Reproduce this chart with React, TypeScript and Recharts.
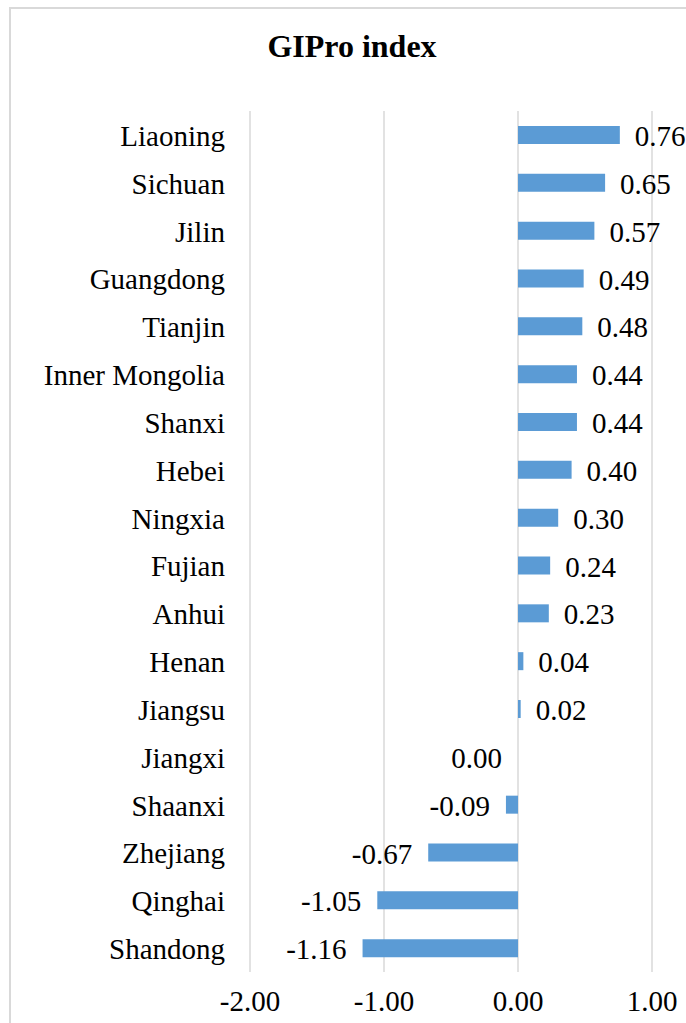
import React from 'react';
import { BarChart, Bar, XAxis, YAxis, CartesianGrid, LabelList, Rectangle } from 'recharts';

const provinces = [
  'Liaoning', 'Sichuan', 'Jilin', 'Guangdong', 'Tianjin', 'Inner Mongolia',
  'Shanxi', 'Hebei', 'Ningxia', 'Fujian', 'Anhui', 'Henan', 'Jiangsu',
  'Jiangxi', 'Shaanxi', 'Zhejiang', 'Qinghai', 'Shandong',
];
const gipro = [
  0.76, 0.65, 0.57, 0.49, 0.48, 0.44,
  0.44, 0.40, 0.30, 0.24, 0.23, 0.04, 0.02,
  0.00, -0.09, -0.67, -1.05, -1.16,
];
const xTicks = [-2, -1, 0, 1];
const title = 'GIPro index';

const data = provinces.map((name, i) => ({ name, value: gipro[i] }));

const FONT = '"Liberation Serif", "Times New Roman", Times, serif';
const FS = 29;

const YTick = (props: any) => {
  const { y, payload } = props;
  return (
    <text x={225} y={y + 1} textAnchor="end" dominantBaseline="central"
      style={{ fontFamily: FONT }} fontSize={FS} fill="#000">
      {payload.value}
    </text>
  );
};

const XTick = (props: any) => {
  const { x, payload } = props;
  return (
    <text x={x} y={1001} textAnchor="middle" dominantBaseline="central"
      style={{ fontFamily: FONT }} fontSize={FS} fill="#000">
      {Number(payload.value).toFixed(2)}
    </text>
  );
};

const ValueLabel = (props: any) => {
  const { x, y, width, height, value } = props;
  const left = Math.min(x, x + width);
  const right = Math.max(x, x + width);
  const cy = y + height / 2 + 1;
  const v = Number(value);
  if (v > 0) {
    return (
      <text x={right + 15} y={cy} textAnchor="start" dominantBaseline="central"
        style={{ fontFamily: FONT }} fontSize={FS} fill="#000">
        {v.toFixed(2)}
      </text>
    );
  }
  return (
    <text x={left - 16} y={cy} textAnchor="end" dominantBaseline="central"
      style={{ fontFamily: FONT }} fontSize={FS} fill="#000">
      {v.toFixed(2)}
    </text>
  );
};

const BarShape = (props: any) => {
  if (props.payload && props.payload.value === 0) return <g />;
  return <Rectangle {...props} />;
};

export default function App() {
  return (
    <div style={{ position: 'fixed', left: 0, top: 0, width: 686, height: 1023, overflow: 'hidden', background: '#fff' }}>
      <div style={{
        position: 'absolute', left: 9, top: 7, width: 800, height: 1100,
        border: '2px solid #d9d9d9', boxSizing: 'border-box',
      }} />
      <div style={{
        position: 'absolute', left: 0, top: 26, width: 704, textAlign: 'center',
        fontFamily: FONT, fontSize: 32, fontWeight: 'bold', color: '#000', lineHeight: '40px',
      }}>
        {title}
      </div>
      <div style={{ position: 'absolute', left: 0, top: 0 }}>
        <BarChart
          width={686}
          height={1023}
          data={data}
          layout="vertical"
          margin={{ top: 111, right: 34, bottom: 0, left: 0 }}
          barCategoryGap={0}
        >
          <CartesianGrid horizontal={false} stroke="#d9d9d9" strokeWidth={1.5} />
          <XAxis type="number" domain={[-2, 1]} ticks={xTicks} axisLine={false}
            tickLine={false} height={51} tick={<XTick />} interval={0} />
          <YAxis type="category" dataKey="name" width={250} axisLine={false}
            tickLine={false} tick={<YTick />} interval={0} />
          <Bar dataKey="value" fill="#5B9BD5" barSize={18} minPointSize={1}
            shape={<BarShape />} isAnimationActive={false}>
            <LabelList dataKey="value" content={<ValueLabel />} />
          </Bar>
        </BarChart>
      </div>
    </div>
  );
}
